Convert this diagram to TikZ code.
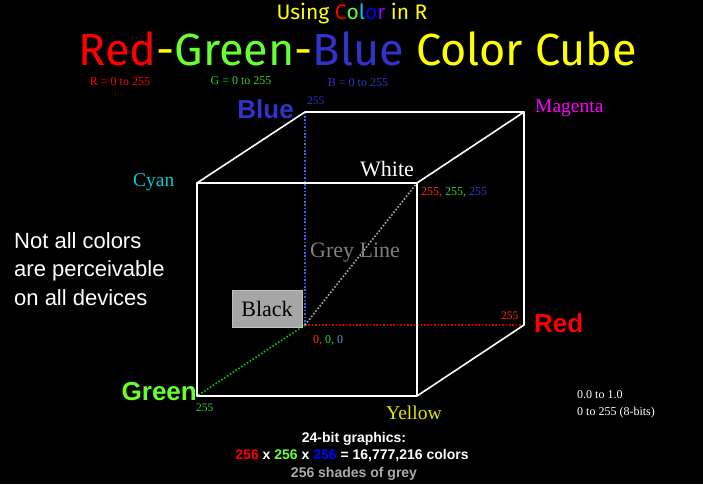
\documentclass[tikz,border=0pt]{standalone}
\usepackage{fontspec}
\setmainfont{Liberation Serif}
\setsansfont{Liberation Sans}
\newfontfamily\comicfont{Fira Sans}
\usetikzlibrary{positioning}
\definecolor{rgbred}{RGB}{255,0,0}
\definecolor{rgbgreen}{RGB}{102,255,51}
\definecolor{rgbblue}{RGB}{51,51,204}
\definecolor{rgbyellow}{RGB}{255,255,0}
\definecolor{numred}{RGB}{255,51,0}
\definecolor{numgreen}{RGB}{51,204,51}
\definecolor{numblue}{RGB}{51,51,204}
\definecolor{lightblue}{RGB}{102,153,221}
\definecolor{cyanlbl}{RGB}{0,204,204}
\definecolor{magentalbl}{RGB}{255,0,255}
\definecolor{yellowlbl}{RGB}{230,230,0}
\definecolor{greyline}{RGB}{128,128,128}
\definecolor{blackbox}{RGB}{166,166,166}
\definecolor{lcyan}{RGB}{0,204,255}
\definecolor{lpurple}{RGB}{153,0,255}
\definecolor{pureblue}{RGB}{0,0,255}
\definecolor{dotblue}{RGB}{51,102,255}
\definecolor{dotred}{RGB}{204,0,0}
\definecolor{dotgreen}{RGB}{0,204,0}
\definecolor{shadegrey}{RGB}{170,170,170}

\begin{document}
\begin{tikzpicture}[x=1pt, y=-1pt,
    cubeedge/.style={white, line width=1.6pt, line cap=round, line join=round},
    axisline/.style={line width=1.6pt, dash pattern=on 1.6pt off 1.8pt},
    cornerlbl/.style={anchor=base west, inner sep=0pt, font=\fontsize{19.5}{22}\selectfont},
    bigcorner/.style={anchor=base west, inner sep=0pt, font=\fontsize{22}{26}\selectfont},
    axisname/.style={inner sep=0pt, font=\sffamily\bfseries\fontsize{26}{30}\selectfont},
    ticklbl/.style={anchor=base west, inner sep=0pt, font=\fontsize{11.5}{14}\selectfont},
    rangelbl/.style={anchor=base, inner sep=0pt, font=\fontsize{12}{14}\selectfont},
    sidenote/.style={inner sep=0pt, align=left, font=\sffamily\fontsize{22}{28.5}\selectfont, white},
    footer/.style={anchor=base, inner sep=0pt, font=\sffamily\bfseries\fontsize{14}{17}\selectfont},
]
\fill[black] (0,0) rectangle (703,484);
\useasboundingbox (0,0) rectangle (703,484);

% titles
\node[anchor=base, inner sep=0pt, font=\comicfont\fontsize{21}{24}\selectfont, rgbyellow] (subtitle) at (352,20)
  {Using \textcolor{rgbred}{C}\textcolor{rgbgreen}{o}\textcolor{lcyan}{l}\textcolor{pureblue}{o}\textcolor{lpurple}{r} in R};
\node[anchor=base, inner sep=0pt, font=\comicfont\fontsize{45}{50}\selectfont, rgbyellow] (title) at (358,66)
  {\textcolor{rgbred}{Red}-\textcolor{rgbgreen}{Green}-\textcolor{rgbblue}{Blue} Color Cube};
\node[rangelbl, rgbred] (rrange) at (120,86) {R = 0 to 255};
\node[rangelbl, numgreen] (grange) at (241,85) {G = 0 to 255};
\node[rangelbl, rgbblue] (brange) at (358,87) {B = 0 to 255};

% cube corners
\coordinate (black) at (305,325);
\coordinate (red) at (524,325);
\coordinate (blue) at (305,112);
\coordinate (magenta) at (524,112);
\coordinate (green) at (197,396);
\coordinate (yellow) at (417,396);
\coordinate (cyan) at (197,183);
\coordinate (white) at (417,183);

% axes from black
\draw[axisline, dotblue] (black) -- (blue);
\draw[axisline, dotred] (black) -- (red);
\draw[axisline, dotgreen] (black) -- (green);
\draw[axisline, shadegrey] (black) -- (white);

% cube edges
\draw[cubeedge] (cyan) -- (white) -- (yellow) -- (green) -- cycle;
\draw[cubeedge] (cyan) -- (blue) -- (magenta) -- (white);
\draw[cubeedge] (magenta) -- (red) -- (yellow);

% corner labels
\node[axisname, rgbblue, anchor=east] (bluelbl) at (294,109) {Blue};
\node[axisname, rgbred, anchor=west] (redlbl) at (534,323) {Red};
\node[axisname, rgbgreen, anchor=east] (greenlbl) at (197,392) {Green};
\node[cornerlbl, magentalbl] (magentalbl) at (535,113) {Magenta};
\node[cornerlbl, cyanlbl] (cyanlbl) at (133,186) {Cyan};
\node[cornerlbl, yellowlbl] (yellowlbl) at (386,419) {Yellow};
\node[bigcorner, white] (whitelbl) at (360,176) {White};
\node[bigcorner, greyline] (greylbl) at (310,257) {Grey Line};
\node[draw=blackbox!70!white, fill=blackbox, inner sep=0pt, minimum width=70pt, minimum height=37pt,
  font=\fontsize{22}{26}\selectfont, text=black] (blacklbl) at (267,308.5) {Black};

% numbers
\node[ticklbl, rgbblue] (blue255) at (307,105) {255};
\node[ticklbl, numred] (red255) at (501,319) {255};
\node[ticklbl, numgreen] (green255) at (196,411) {255};
\node[ticklbl, font=\fontsize{12}{14}\selectfont] (white255) at (421,195)
  {\textcolor{numred}{255,} \textcolor{numgreen}{255,} \textcolor{numblue}{255}};
\node[ticklbl, font=\fontsize{12}{14}\selectfont] (black0) at (313,343)
  {\textcolor{numred}{0,} \textcolor{numgreen}{0,} \textcolor{lightblue}{0}};
\node[anchor=base west, inner sep=0pt, align=left, white, font=\fontsize{12}{16.5}\selectfont] (scales) at (577,415)
  {0.0 to 1.0\\0 to 255 (8-bits)};

% side note
\node[sidenote, anchor=base west] (devices) at (14,305) {Not all colors\\are perceivable\\on all devices};

% footer
\node[footer, white] (bits) at (354,442) {24-bit graphics:};
\node[footer, white] (count) at (352,459)
  {\textcolor{rgbred}{256} x \textcolor{rgbgreen}{256} x \textcolor{pureblue}{256} = 16,777,216 colors};
\node[footer, shadegrey] (shades) at (354,477) {256 shades of grey};
\end{tikzpicture}
\end{document}
